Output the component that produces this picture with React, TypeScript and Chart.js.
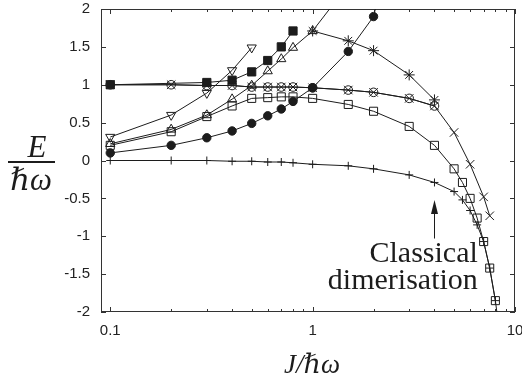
import React, { useEffect, useRef } from 'react';
import { Chart, registerables } from 'chart.js';

Chart.register(...registerables);

// ---- Data ----
const J_PLUS = [0.1, 0.2, 0.3, 0.4, 0.5, 0.6, 0.7, 0.8, 1, 1.5, 2, 3, 4, 5, 5.5, 6, 6.5, 7, 7.5, 8, 8.5];
const E_PLUS = [0, 0, 0, -0.01, -0.01, -0.02, -0.02, -0.03, -0.05, -0.07, -0.11, -0.19, -0.29, -0.41, -0.52, -0.66, -0.85, -1.07, -1.42, -1.85, -2.4];

const J_SQUARE = [0.1, 0.2, 0.3, 0.4, 0.5, 0.6, 0.7, 0.8, 1, 1.5, 2, 3, 4, 5, 5.5, 6, 6.5, 7, 7.5, 8];
const E_SQUARE = [0.2, 0.38, 0.58, 0.72, 0.82, 0.83, 0.84, 0.84, 0.82, 0.74, 0.65, 0.45, 0.2, -0.11, -0.29, -0.5, -0.76, -1.07, -1.42, -1.85];

const J_CROSS = [0.1, 0.2, 0.3, 0.4, 0.5, 0.6, 0.7, 0.8, 1, 1.5, 2, 3, 4, 5, 6, 7, 7.5];
const E_CROSS = [1.0, 1.0, 0.99, 0.99, 0.97, 0.97, 0.97, 0.97, 0.96, 0.93, 0.9, 0.82, 0.72, 0.37, -0.05, -0.48, -0.73];

const J_CIRCLE = [0.1, 0.2, 0.3, 0.4, 0.5, 0.6, 0.7, 0.8, 1, 1.5, 2, 3, 4];
const E_CIRCLE = [1.0, 1.0, 0.99, 0.99, 0.97, 0.97, 0.97, 0.97, 0.96, 0.93, 0.9, 0.82, 0.72];

const J_DOT = [0.1, 0.2, 0.3, 0.4, 0.5, 0.6, 0.7, 0.8, 1, 1.5, 2, 3];
const E_DOT = [0.1, 0.2, 0.3, 0.39, 0.49, 0.59, 0.68, 0.78, 0.96, 1.44, 1.9, 3.9];

const J_FSQUARE = [0.1, 0.3, 0.4, 0.5, 0.6, 0.7, 0.8];
const E_FSQUARE = [1.0, 1.03, 1.06, 1.17, 1.32, 1.5, 1.71];

const J_TRI_UP = [0.1, 0.2, 0.3, 0.4, 0.5, 0.6, 0.7, 0.8, 1, 1.5];
const E_TRI_UP = [0.22, 0.41, 0.6, 0.81, 0.99, 1.18, 1.34, 1.49, 1.71, 2.32];

const J_TRI_DOWN = [0.1, 0.2, 0.3, 0.4, 0.5];
const E_TRI_DOWN = [0.31, 0.6, 0.89, 1.19, 1.49];

const J_STAR = [1, 1.5, 2, 3, 4];
const E_STAR = [1.71, 1.58, 1.45, 1.13, 0.8];

const X_TICKS = [0.1, 0.2, 0.3, 0.4, 0.5, 0.6, 0.7, 0.8, 0.9, 1, 2, 3, 4, 5, 6, 7, 8, 9, 10];
const X_LABELS = [0.1, 1, 10];
const Y_TICKS = [-2, -1.5, -1, -0.5, 0, 0.5, 1, 1.5, 2];

const ANNOT_LINES = ['Classical', 'dimerisation'];
const ANNOT_X = 6.55;
const ANNOT_Y = [-1.34, -1.69];
const ARROW_X = 4;
const ARROW_FROM = -1.03;
const ARROW_TO = -0.52;

const INK = '#1c1c1c';
const SERIF = '"Liberation Serif", "DejaVu Serif", serif';
const SANS = '"Liberation Sans", Arial, sans-serif';

const pts = (xs: number[], ys: number[]) => xs.map((x, i) => ({ x, y: ys[i] }));

function series(xs: number[], ys: number[], style: any, radius: number, filled: boolean, rotation = 0) {
  return {
    data: pts(xs, ys),
    borderColor: INK,
    borderWidth: 1,
    pointStyle: style,
    pointRadius: radius,
    pointRotation: rotation,
    pointBorderColor: INK,
    pointBorderWidth: 1,
    pointBackgroundColor: filled ? INK : 'rgba(0,0,0,0)',
    showLine: true,
    tension: 0,
    fill: false,
  };
}

const framePlugin = {
  id: 'frame',
  beforeDatasetsDraw(chart: any) {
    const { ctx, chartArea } = chart;
    const { left, right, top, bottom } = chartArea;
    const xs = chart.scales.x;
    const ys = chart.scales.y;
    ctx.save();
    ctx.strokeStyle = '#333';
    ctx.lineWidth = 1;
    ctx.strokeRect(left + 0.5, top + 0.5, right - left - 1, bottom - top - 1);
    ctx.beginPath();
    X_TICKS.forEach((v) => {
      const px = Math.round(xs.getPixelForValue(v)) + 0.5;
      const len = X_LABELS.includes(v) ? 5 : 3;
      ctx.moveTo(px, bottom);
      ctx.lineTo(px, bottom - len);
      ctx.moveTo(px, top);
      ctx.lineTo(px, top + len);
    });
    Y_TICKS.forEach((v) => {
      const py = Math.round(ys.getPixelForValue(v)) + 0.5;
      ctx.moveTo(left, py);
      ctx.lineTo(left + 5, py);
      ctx.moveTo(right, py);
      ctx.lineTo(right - 5, py);
    });
    ctx.stroke();
    ctx.restore();
  },
  afterDraw(chart: any) {
    const { ctx } = chart;
    const xs = chart.scales.x;
    const ys = chart.scales.y;
    ctx.save();
    ctx.fillStyle = INK;
    ctx.strokeStyle = INK;
    // y-axis title as fraction E / ħω
    ctx.textAlign = 'center';
    ctx.textBaseline = 'alphabetic';
    ctx.font = `italic 31px ${SERIF}`;
    ctx.fillText('E', 37, 157);
    ctx.fillRect(8, 161, 47, 2);
    ctx.fillText('ℏω', 31, 190);
    // x-axis title
    ctx.font = `italic 27px ${SERIF}`;
    ctx.fillText('J/ℏω', 312, 373);
    // annotation
    ctx.font = `30px ${SERIF}`;
    ctx.textAlign = 'right';
    const ax = xs.getPixelForValue(ANNOT_X);
    ANNOT_LINES.forEach((t, i) => ctx.fillText(t, ax, ys.getPixelForValue(ANNOT_Y[i])));
    // arrow
    const arx = Math.round(xs.getPixelForValue(ARROW_X)) + 0.5;
    const y0 = ys.getPixelForValue(ARROW_FROM);
    const y1 = ys.getPixelForValue(ARROW_TO);
    ctx.lineWidth = 1;
    ctx.beginPath();
    ctx.moveTo(arx, y0);
    ctx.lineTo(arx, y1 + 10);
    ctx.stroke();
    ctx.beginPath();
    ctx.moveTo(arx, y1);
    ctx.lineTo(arx - 3.5, y1 + 14);
    ctx.lineTo(arx + 3.5, y1 + 14);
    ctx.closePath();
    ctx.fill();
    ctx.restore();
  },
};

export default function App() {
  const ref = useRef<HTMLCanvasElement>(null);
  useEffect(() => {
    const canvas = ref.current;
    if (!canvas) return;
    const chart = new Chart(canvas, {
      type: 'line',
      data: {
        datasets: [
          series(J_FSQUARE, E_FSQUARE, 'rect', 5.8, true),
          series(J_DOT, E_DOT, 'circle', 4.2, true),
          series(J_PLUS, E_PLUS, 'cross', 4, false),
          series(J_SQUARE, E_SQUARE, 'rect', 5.7, false),
          series(J_CROSS, E_CROSS, 'crossRot', 6, false),
          series(J_CIRCLE, E_CIRCLE, 'circle', 4.3, false),
          series(J_TRI_UP, E_TRI_UP, 'triangle', 5.3, false),
          series(J_TRI_DOWN, E_TRI_DOWN, 'triangle', 5.3, false, 180),
          series(J_STAR, E_STAR, 'star', 5.5, false),
        ] as any,
      },
      options: {
        responsive: false,
        animation: false,
        devicePixelRatio: 1,
        events: [],
        layout: { padding: { left: 0, right: 7, top: 9, bottom: 0 } },
        plugins: { legend: { display: false }, tooltip: { enabled: false }, title: { display: false } },
        scales: {
          x: {
            type: 'logarithmic',
            min: 0.09,
            max: 10,
            grid: { display: false, drawTicks: false },
            border: { display: false },
            afterBuildTicks: (s: any) => {
              s.ticks = X_TICKS.map((v) => ({ value: v }));
            },
            afterFit: (s: any) => {
              s.height = 70;
              s.paddingLeft = 0;
              s.paddingRight = 0;
            },
            ticks: {
              autoSkip: false,
              maxRotation: 0,
              minRotation: 0,
              padding: 10,
              color: '#222',
              font: { family: SANS, size: 15 },
              callback: (v: any) => (X_LABELS.includes(Number(v)) ? String(v) : ''),
            },
          },
          y: {
            type: 'linear',
            min: -2,
            max: 2,
            grid: { display: false, drawTicks: false },
            border: { display: false },
            afterBuildTicks: (s: any) => {
              s.ticks = Y_TICKS.map((v) => ({ value: v }));
            },
            afterFit: (s: any) => {
              s.width = 101;
              s.paddingTop = 0;
              s.paddingBottom = 0;
            },
            ticks: {
              padding: 11,
              color: '#222',
              font: { family: SANS, size: 15 },
              callback: (v: any) => String(v),
            },
          },
        },
      },
      plugins: [framePlugin],
    });
    return () => chart.destroy();
  }, []);
  return (
    <div style={{ position: 'fixed', left: 0, top: 0, width: 522, height: 382, background: '#fff' }}>
      <canvas ref={ref} width={522} height={382} style={{ width: 522, height: 382, display: 'block' }} />
    </div>
  );
}
